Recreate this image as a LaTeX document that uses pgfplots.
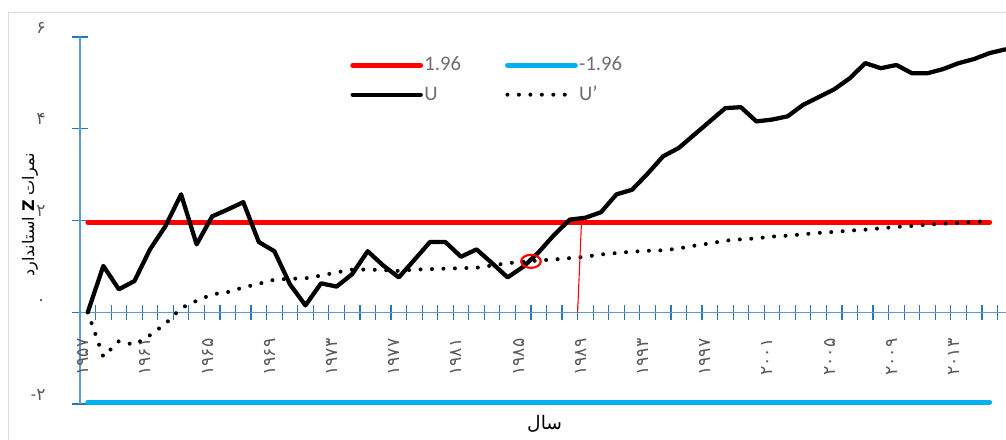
\documentclass[border=0pt]{standalone}
\usepackage{fontspec}
\setmainfont{Carlito}
\newfontfamily\arabicfont[Script=Arabic]{DejaVu Sans}
\TeXXeTstate=1
\usepackage{pgfplots}
\pgfplotsset{compat=1.18}
\definecolor{axblue}{HTML}{5B9BD5}
\definecolor{tickblue}{HTML}{2E75B6}
\definecolor{lgray}{HTML}{595959}
\definecolor{leggray}{HTML}{6E6E6E}
\definecolor{cyanline}{HTML}{00B0F0}
\definecolor{borderg}{HTML}{D9D9D9}
\begin{document}
\begin{tikzpicture}
\useasboundingbox (0,0) rectangle (754.5pt,329.25pt);
\draw[borderg, line width=0.75pt] (6pt,-5pt) -- (6pt,319.5pt) -- (760pt,319.5pt);
\begin{axis}[
  at={(60pt,26.25pt)}, anchor=south west,
  scale only axis, width=699.75pt, height=275.25pt,
  xmin=-0.5, xmax=59.5, ymin=-2, ymax=6,
  axis x line*=middle, axis y line*=left,
  axis line style={axblue, line width=0.9pt},
  ytick={-2,0,2,4,6}, yticklabels={{\normalfont -}۲,۰,۲,۴,۶},
  xtick={-0.3,3.7,...,55.7},
  xticklabels={۱۹۵۷,۱۹۶۱,۱۹۶۵,۱۹۶۹,۱۹۷۳,۱۹۷۷,۱۹۸۱,۱۹۸۵,۱۹۸۹,۱۹۹۳,۱۹۹۷,۲۰۰۱,۲۰۰۵,۲۰۰۹,۲۰۱۳},
  minor xtick={-0.5,0.5,...,59.5},
  major x tick style={draw=none},
  tick style={tickblue, line width=0.9pt},
  tick align=center,
  major tick length=11.25pt, minor tick length=11.25pt,
  tick label style={font=\arabicfont\fontsize{13}{15}\selectfont, text=lgray},
  yticklabel style={anchor=east, inner sep=0pt, xshift=-20pt, yshift=7pt},
  xticklabel style={yshift=-14pt, rotate=90, anchor=east, inner sep=0pt},
  ylabel={\arabicfont\beginR نمرات {\bfseries Z} استاندارد\endR},
  ylabel style={at={(axis description cs:-0.0536,0.515)}, anchor=center, font=\fontsize{12}{14}\selectfont, text=black},
  xlabel={\arabicfont\beginR سال\endR},
  xlabel style={at={(axis description cs:0.498,-0.0545)}, anchor=center, font=\fontsize{14}{16}\selectfont, text=black},
  clip=false,
  legend columns=2,
  legend image code/.code={\draw[#1] (0pt,0pt) -- (51pt,0pt);},
  legend style={draw=none, fill=none, inner sep=0pt,
    at={(axis description cs:0.2894,0.8828)}, anchor=west,
    font=\fontsize{15.5}{17}\selectfont, text=leggray,
    nodes={inner sep=0pt, text height=11pt, text depth=3pt},
    row sep=8pt, column sep=0pt,
    /tikz/every odd column/.append style={column sep=1pt},
    /tikz/every even column/.append style={column sep=33pt}},
  legend cell align=left,
]
\addplot[red, line width=3.6pt, line cap=round] coordinates {(0,1.96) (58,1.96)};
\addlegendentry{1.96}
\addplot[cyanline, line width=3.6pt, line cap=round] coordinates {(0,-1.96) (58,-1.96)};
\addlegendentry{-1.96}
\addplot[black, line width=3.2pt, line join=round, line cap=round] coordinates {
(0,0.00) (1,1.01) (2,0.50) (3,0.68) (4,1.37) (5,1.88) (6,2.57) (7,1.48) (8,2.09) (9,2.24)
(10,2.40) (11,1.53) (12,1.33) (13,0.61) (14,0.15) (15,0.63) (16,0.56) (17,0.83) (18,1.33) (19,1.02)
(20,0.76) (21,1.14) (22,1.53) (23,1.53) (24,1.21) (25,1.37) (26,1.07) (27,0.76) (28,0.99) (29,1.31)
(30,1.69) (31,2.02) (32,2.06) (33,2.18) (34,2.57) (35,2.67) (36,3.02) (37,3.40) (38,3.58) (39,3.87)
(40,4.16) (41,4.45) (42,4.47) (43,4.16) (44,4.20) (45,4.27) (46,4.52) (47,4.69) (48,4.86) (49,5.10)
(50,5.43) (51,5.32) (52,5.39) (53,5.21) (54,5.21) (55,5.30) (56,5.43) (57,5.52) (58,5.65) (59,5.73)};
\addlegendentry{U}
\addplot[black, line width=3pt, line cap=round, dash pattern=on 0pt off 8.6pt] coordinates {
(0,0.00) (1,-0.97) (2,-0.63) (3,-0.71) (4,-0.50) (5,-0.25) (6,0.09) (7,0.25) (8,0.39) (9,0.44)
(10,0.54) (11,0.62) (12,0.71) (13,0.73) (14,0.74) (15,0.80) (16,0.87) (17,0.93) (18,0.93) (19,0.92)
(20,0.90) (21,0.93) (22,0.94) (23,0.95) (24,0.96) (25,0.97) (26,1.02) (27,1.07) (28,1.10) (29,1.13)
(30,1.15) (31,1.18) (32,1.21) (33,1.26) (34,1.29) (35,1.32) (36,1.34) (37,1.35) (38,1.39) (39,1.45)
(40,1.50) (41,1.56) (42,1.59) (43,1.61) (44,1.65) (45,1.67) (46,1.70) (47,1.73) (48,1.75) (49,1.78)
(50,1.80) (51,1.83) (52,1.86) (53,1.88) (54,1.91) (55,1.93) (56,1.95) (57,1.97) (58,1.99)};
\addlegendentry{U'}
\addplot[red, line width=0.8pt, forget plot] coordinates {(31.5,0) (31.75,1.96)};
\addplot[red, only marks, mark=o, mark size=4.9pt, forget plot,
  mark options={xscale=1.5, line width=1.6pt, red}] coordinates {(28.5,1.11)};
\end{axis}
\end{tikzpicture}
\end{document}
